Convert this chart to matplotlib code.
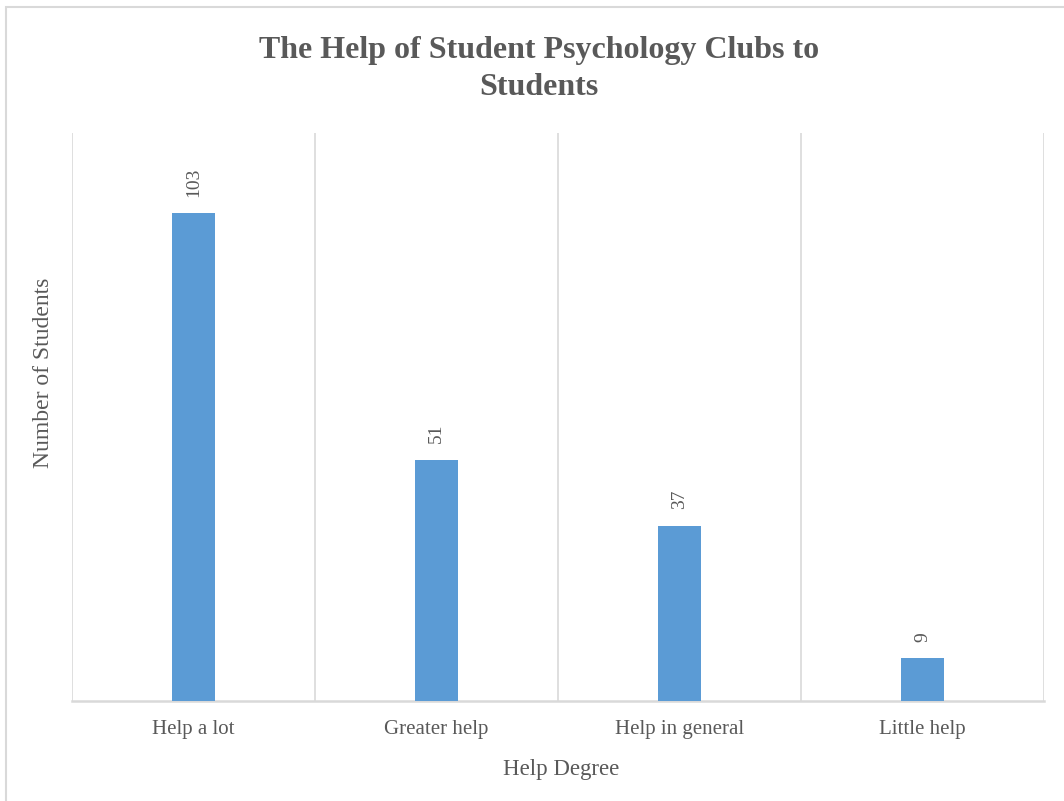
import matplotlib
matplotlib.use("Agg")
import matplotlib.pyplot as plt
from matplotlib.patches import Rectangle

categories = ["Help a lot", "Greater help", "Help in general", "Little help"]
values = [103, 51, 37, 9]
title = "The Help of Student Psychology Clubs to\nStudents"
xlabel = "Help Degree"
ylabel = "Number of Students"

W, H = 1064, 801
fig = plt.figure(figsize=(W / 100, H / 100), dpi=100)
serif = ["Liberation Serif", "DejaVu Serif"]
txt = "#595959"
grid = "#D9D9D9"

# chart border
fig.patches.append(Rectangle((6 / W, -0.1), 1.2, (H - 7) / H + 0.1, transform=fig.transFigure,
                             fill=False, edgecolor="#D9D9D9", linewidth=1.5, zorder=0))

left, right, bottom, top = 72 / W, 1044 / W, (H - 701) / H, (H - 133) / H
ax = fig.add_axes([left, bottom, right - left, top - bottom])

x = list(range(len(categories)))
ax.bar(x, values, width=0.18, color="#5B9BD5", zorder=3)
ax.set_xlim(-0.5, len(categories) - 0.5)
ax.set_ylim(0, 120)

for b in [i - 0.5 for i in range(len(categories) + 1)]:
    ax.axvline(b, color=grid, linewidth=1.2, zorder=1)

for sp in ["top", "right", "left"]:
    ax.spines[sp].set_visible(False)
ax.spines["bottom"].set_color(grid)
ax.spines["bottom"].set_linewidth(1.8)
ax.set_yticks([])
ax.set_xticks(x)
ax.set_xticklabels(categories, fontfamily=serif, fontsize=15, color=txt)
ax.tick_params(axis="x", length=0, pad=14)

for xi, v in zip(x, values):
    ax.annotate(str(v), (xi, v), xytext=(0, 12), textcoords="offset points",
                rotation=90, ha="center", va="bottom", fontfamily=serif,
                fontsize=14, color=txt)

fig.text(539 / W, 1 - 69 / H, title, ha="center", va="center", fontfamily=serif,
         fontweight="bold", fontsize=23, color=txt, linespacing=1.4)
fig.text(561 / W, 1 - 769 / H, xlabel, ha="center", va="center", fontfamily=serif,
         fontsize=16.5, color=txt)
fig.text(44 / W, 1 - 373 / H, ylabel, ha="center", va="center", rotation=90,
         fontfamily=serif, fontsize=17, color=txt)

fig.savefig("out.png", dpi=100)
